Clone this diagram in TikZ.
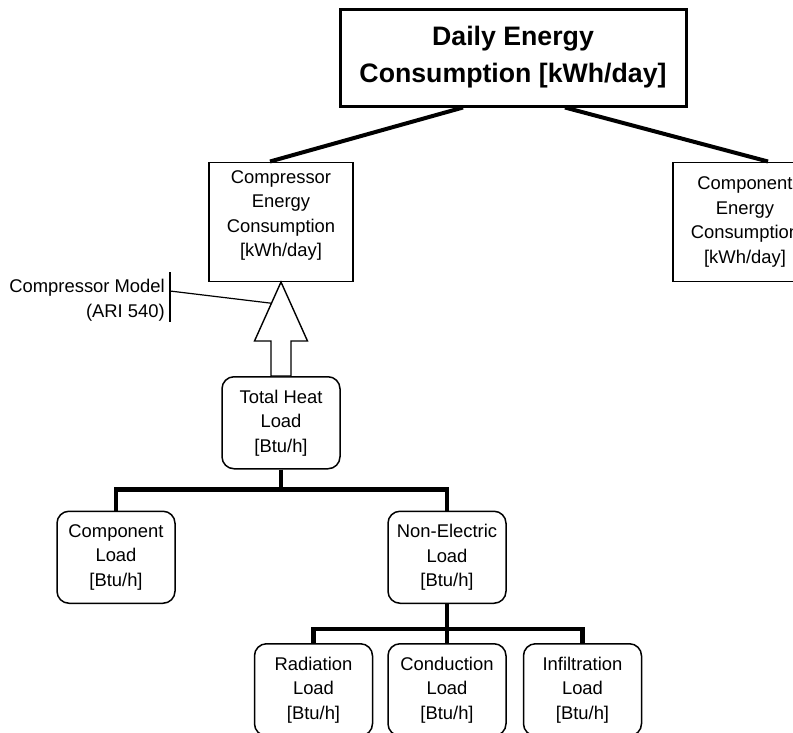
\documentclass[tikz,border=0pt]{standalone}
\usepackage{fontspec}
\setmainfont{Liberation Sans}
\usetikzlibrary{positioning, calc}
\tikzset{
  topbox/.style={
    rectangle, draw, line width=3pt,
    minimum width=346pt, minimum height=97pt,
    align=center, font=\fontsize{26.7}{37}\selectfont\bfseries
  },
  enbox/.style={
    rectangle, draw, line width=1.5pt,
    minimum width=144pt, minimum height=119pt,
    align=center, font=\fontsize{18.4}{24.5}\selectfont
  },
  loadbox/.style={
    rectangle, rounded corners=12pt, draw, line width=1.5pt,
    minimum width=118pt, minimum height=92pt,
    align=center, font=\fontsize{18.4}{24.5}\selectfont
  },
  note/.style={align=right, inner sep=0pt, font=\fontsize{18.4}{24.5}\selectfont},
  link/.style={line width=4pt},
  branch/.style={line width=4.5pt},
  blockarrow/.style={line width=1.4pt, fill=white, line join=miter},
  tickline/.style={line width=1.2pt},
}

\begin{document}
\begin{tikzpicture}[x=1pt, y=1pt]

  \useasboundingbox (0,0) rectangle (793,-732);
  \clip (0,0) rectangle (793,-732);

  % --- Top: daily energy and its two parts ---
  \node (daily) [topbox] at (513,-57.5) {Daily Energy\\Consumption [kWh/day]};
  \node (cmpE)  [enbox, inner ysep=2pt, below=54pt of daily, xshift=-232pt]
        {Compressor\\Energy\\Consumption\\{[kWh/day]}\rule[-16pt]{0pt}{0pt}};
  \node (cpE)   [enbox, below=54pt of daily, xshift= 232pt] {Component\\Energy\\Consumption\\{[kWh/day]}};

  % --- Heat loads ---
  \node (thl)  [loadbox, below=94pt of cmpE]                {Total Heat\\Load\\{[Btu/h]}};
  \node (cl)   [loadbox, below=41pt of thl, xshift=-165pt]  {Component\\Load\\{[Btu/h]}};
  \node (nel)  [loadbox, below=41pt of thl, xshift= 166pt]  {Non-Electric\\Load\\{[Btu/h]}};
  \node (cond) [loadbox, below=39pt of nel]                 {Conduction\\Load\\{[Btu/h]}};
  \node (rad)  [loadbox, left=14pt of cond]                 {Radiation\\Load\\{[Btu/h]}};
  \node (inf)  [loadbox, right=16pt of cond]                {Infiltration\\Load\\{[Btu/h]}};

  % --- Links from the top box ---
  \draw[link] ([xshift=-50pt]daily.south) -- ([xshift=-11pt]cmpE.north);
  \draw[link] ([xshift= 52pt]daily.south) -- ([xshift= 23pt]cpE.north);

  % --- Block arrow: heat load -> compressor ---
  \coordinate (hb) at ([yshift=-59pt]cmpE.south);
  \draw[blockarrow] (cmpE.south) -- ([xshift=-26.5pt]hb) -- ([xshift=-10pt]hb)
        -- ([xshift=-10pt]thl.north) -- ([xshift=10pt]thl.north)
        -- ([xshift=10pt]hb) -- ([xshift=26.5pt]hb) -- cycle;

  % --- Compressor model note ---
  \node (model) [note, anchor=east] at (165,-300) {Compressor Model\\(ARI 540)};
  \coordinate (tick) at ([xshift=5pt, yshift=9pt]model.east);
  \coordinate (headpt) at ($(cmpE.south)!0.36!([xshift=-26.5pt]hb)$);
  \draw[tickline] ([yshift=19pt]tick) -- ([yshift=-31pt]tick);
  \draw[tickline] (tick) -- (headpt);

  % --- Tree lines ---
  \draw[branch] (thl.south) -- ++(0,-20pt) -| (cl.north);
  \draw[branch] (thl.south) -- ++(0,-20pt) -| (nel.north);
  \draw[branch] (nel.south) -- ++(0,-25pt) -| (rad.north);
  \draw[branch] (nel.south) -- (cond.north);
  \draw[branch] (nel.south) -- ++(0,-25pt) -| (inf.north);

\end{tikzpicture}
\end{document}
